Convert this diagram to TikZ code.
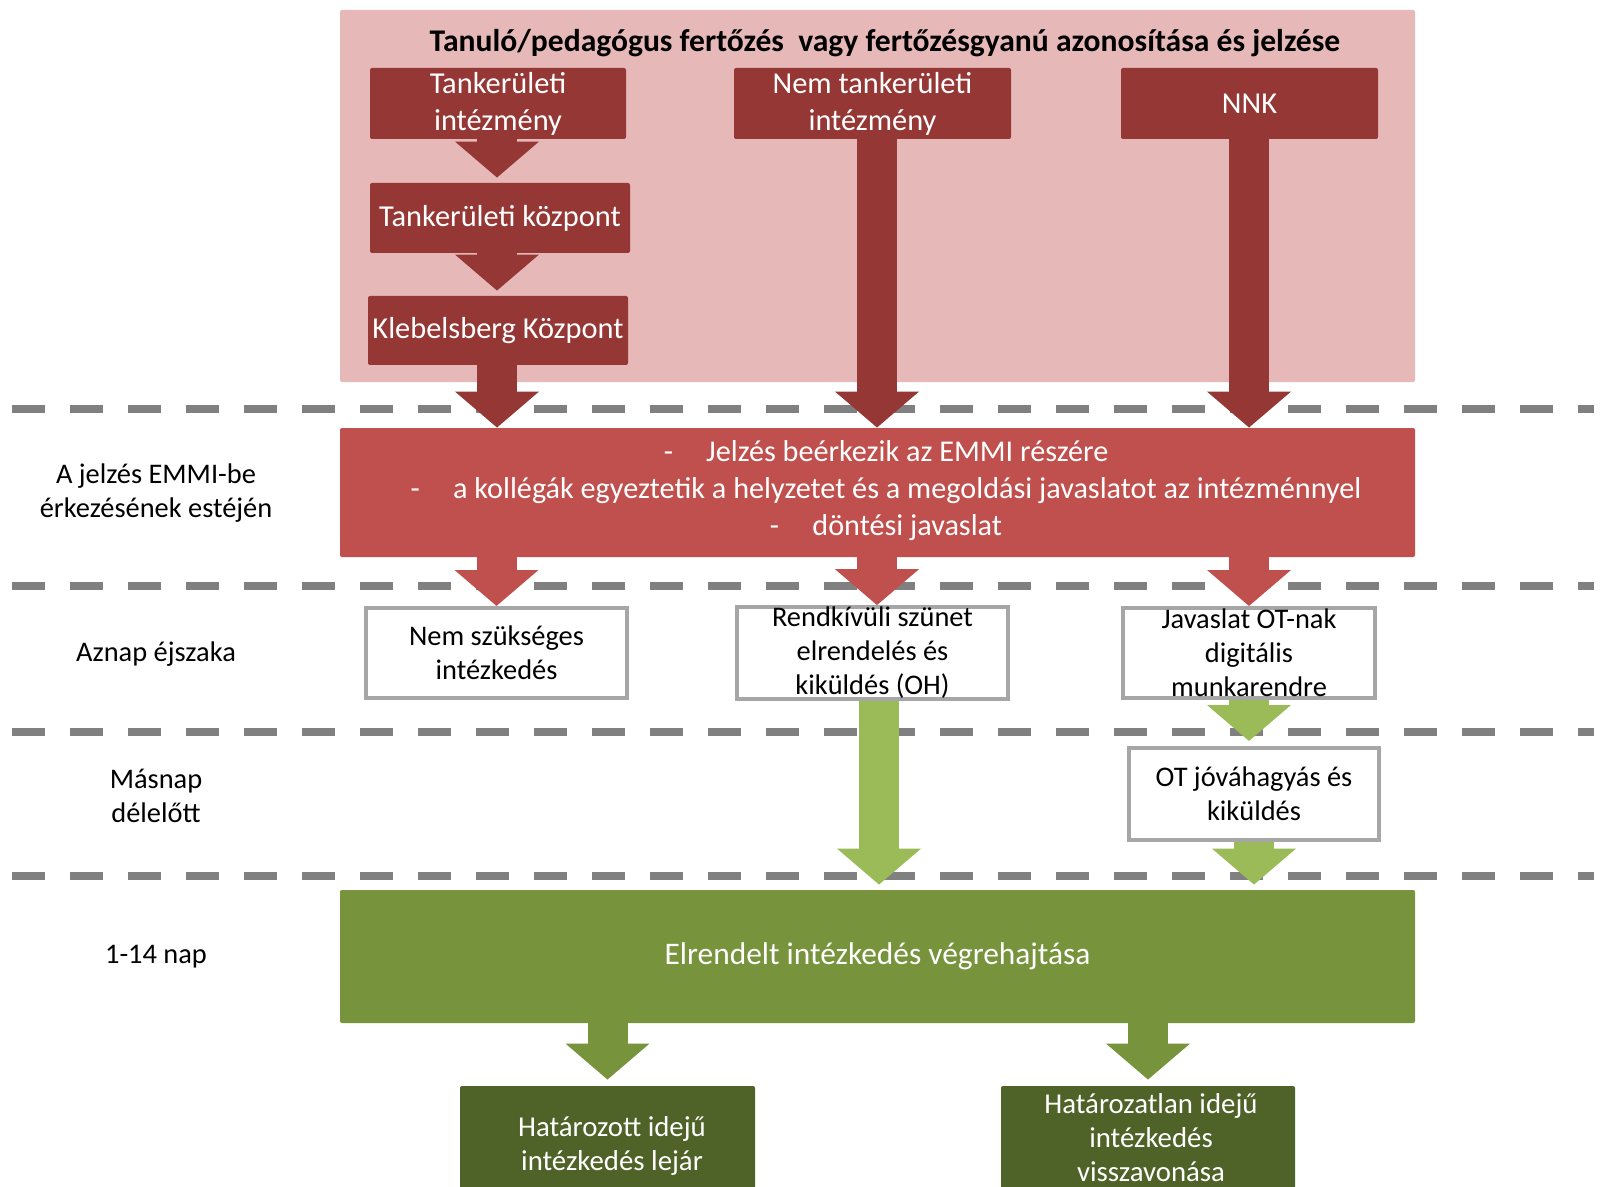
\documentclass[tikz,border=0pt]{standalone}
\usepackage{fontspec}
\setmainfont{Carlito}
\usetikzlibrary{arrows.meta}
\definecolor{pinkbg}{HTML}{E6B9B8}
\definecolor{dred}{HTML}{953735}
\definecolor{mred}{HTML}{C0504D}
\definecolor{lgreen}{HTML}{9BBB59}
\definecolor{mgreen}{HTML}{77933C}
\definecolor{dgreen}{HTML}{4F6228}
\definecolor{dashgray}{HTML}{808080}
\definecolor{boxgray}{HTML}{A6A6A6}
\newcommand\fnt{\fontsize{14.2}{17}\selectfont}
\newcommand\fntred{\fontsize{15.2}{18.5}\selectfont}
\newcommand\fnttitle{\fontsize{15.8}{18.5}\selectfont\bfseries}
\newcommand\fntemmi{\fontsize{15.1}{17}\selectfont}
\newcommand\fntgrn{\fontsize{15.7}{18}\selectfont}
\newcommand\fntbot{\fontsize{14.4}{17}\selectfont}
\tikzset{
  solidbox/.style={rounded corners=1pt, text=white, align=center, inner sep=0pt},
  darkbox/.style={solidbox, fill=dred, font=\fntred},
  whitebox/.style={draw=boxgray, line width=2pt, fill=white, text=black, font=\fnt, align=center, inner sep=0pt},
  lbl/.style={font=\fnt, align=center, text=black},
  fatarrow/.style={line width=20pt, -{Triangle[width=41pt,length=18pt]}},
  sepline/.style={draw=dashgray, line width=3.75pt, dash pattern=on 16.5pt off 12.5pt}
}
\begin{document}
\begin{tikzpicture}[x=0.5pt,y=-0.5pt]
\clip (0,0) rectangle (1610,1187);
\fill[white] (0,0) rectangle (1610,1187);

% pink background
\node[fill=pinkbg, rounded corners=1pt, minimum width=537.5pt, minimum height=186pt, inner sep=0pt] (bg) at (877.5,196) {};
\node[font=\fnttitle, text=black] (title) at (885,43) {Tanuló/pedagógus fertőzés\ \ vagy fertőzésgyanú azonosítása és jelzése};

% dashed separators
\foreach \yy/\nm in {409/a,586/b,732/c,876/d}{
  \coordinate (\nm l) at (12,\yy);
  \coordinate (\nm r) at (1594,\yy);
  \draw[sepline] (\nm l) -- (\nm r);
}

% top boxes
\node[darkbox, minimum width=128pt, minimum height=35.5pt] (ti) at (498,103.5) {Tankerületi\\intézmény};
\node[darkbox, minimum width=138.5pt, minimum height=35.5pt] (nt) at (872.5,103.5) {Nem tankerületi\\intézmény};
\node[darkbox, minimum width=128.5pt, minimum height=35.5pt] (nnk) at (1249.5,103.5) {NNK};
\node[darkbox, minimum width=130pt, minimum height=35pt] (tk) at (500,218) {Tankerületi központ};
\node[darkbox, minimum width=130pt, minimum height=34.5pt] (kk) at (498,330.5) {Klebelsberg Központ};

% EMMI box
\node[solidbox, fill=mred, minimum width=537.5pt, minimum height=64.5pt] (emmi) at (877.5,492.5) {};
\node[lbl, font=\fntemmi, text=white] (emmitxt) at (886,491) {-\hspace{1.1em}Jelzés beérkezik az EMMI részére\\[1.5pt]
-\hspace{1.1em}a kollégák egyeztetik a helyzetet és a megoldási javaslatot az intézménnyel\\[1.5pt]
-\hspace{1.1em}döntési javaslat};

% row 3 boxes
\node[whitebox, minimum width=130.5pt, minimum height=45pt] (r1) at (496.5,653) {Nem szükséges\\intézkedés};
\node[whitebox, minimum width=135.5pt, minimum height=45pt] (r2) at (872.5,653) {Rendkívüli szünet\\elrendelés és\\kiküldés (OH)};
\node[whitebox, minimum width=126pt, minimum height=45pt] (r3) at (1249,653) {Javaslat OT-nak\\digitális\\munkarendre};
\node[whitebox, minimum width=125pt, minimum height=46pt] (ot) at (1254,794) {OT jóváhagyás és\\kiküldés};

% green box
\node[solidbox, fill=mgreen, font=\fntgrn, minimum width=537.5pt, minimum height=66.5pt] (grn) at (877.5,956.5) {Elrendelt intézkedés végrehajtása};

% bottom boxes
\node[solidbox, fill=dgreen, minimum width=147.5pt, minimum height=57pt] (b1) at (607.5,1143) {};
\node[lbl, font=\fntbot, text=white] (b1txt) at (612,1146) {Határozott idejű\\intézkedés lejár};
\node[solidbox, fill=dgreen, minimum width=147pt, minimum height=57pt] (b2) at (1148,1143) {};
\node[lbl, font=\fntbot, text=white] (b2txt) at (1151,1138) {Határozatlan idejű\\intézkedés\\visszavonása};

% left labels
\node[lbl] (l1) at (156,493) {A jelzés EMMI-be\\érkezésének estéjén};
\node[lbl] (l2) at (156,654) {Aznap éjszaka};
\node[lbl] (l3) at (156,796) {Másnap\\délelőtt};
\node[lbl] (l4) at (156,957) {1-14 nap};

% dark red arrows
\draw[fatarrow, dred, shorten >=2.5pt] ([xshift=-0.5pt]ti.south) -- ([xshift=-0.5pt]ti.south |- tk.north);
\draw[fatarrow, dred, shorten >=2.5pt] ([xshift=-1.5pt]tk.south) -- ([xshift=-1.5pt]tk.south |- kk.north);
\draw[fatarrow, dred] ([xshift=-0.5pt]kk.south) -- ([xshift=-0.5pt]kk.south |- emmi.north);
\draw[fatarrow, dred] ([xshift=2.25pt]nt.south) -- ([xshift=2.25pt]nt.south |- emmi.north);
\draw[fatarrow, dred] ([xshift=-0.25pt]nnk.south) -- ([xshift=-0.25pt]nnk.south |- emmi.north);

% red arrows
\draw[fatarrow, mred] (r1.north |- emmi.south) -- (r1.north);
\draw[fatarrow, mred] ([xshift=2.25pt]r2.north |- emmi.south) -- ([xshift=2.25pt]r2.north);
\draw[fatarrow, mred] (r3.north |- emmi.south) -- (r3.north);

% light green arrows
\draw[fatarrow, lgreen, shorten >=2.5pt] ([xshift=3.25pt]r2.south) -- ([xshift=3.25pt]r2.south |- grn.north);
\draw[fatarrow, lgreen, shorten >=2.5pt] (r3.south) -- (r3.south |- ot.north);
\draw[fatarrow, lgreen, shorten >=2.5pt] (ot.south) -- (ot.south |- grn.north);

% medium green arrows
\draw[fatarrow, mgreen, shorten >=3pt] (grn.south -| b1.north) -- (b1.north);
\draw[fatarrow, mgreen, shorten >=3pt] (grn.south -| b2.north) -- (b2.north);
\end{tikzpicture}
\end{document}
